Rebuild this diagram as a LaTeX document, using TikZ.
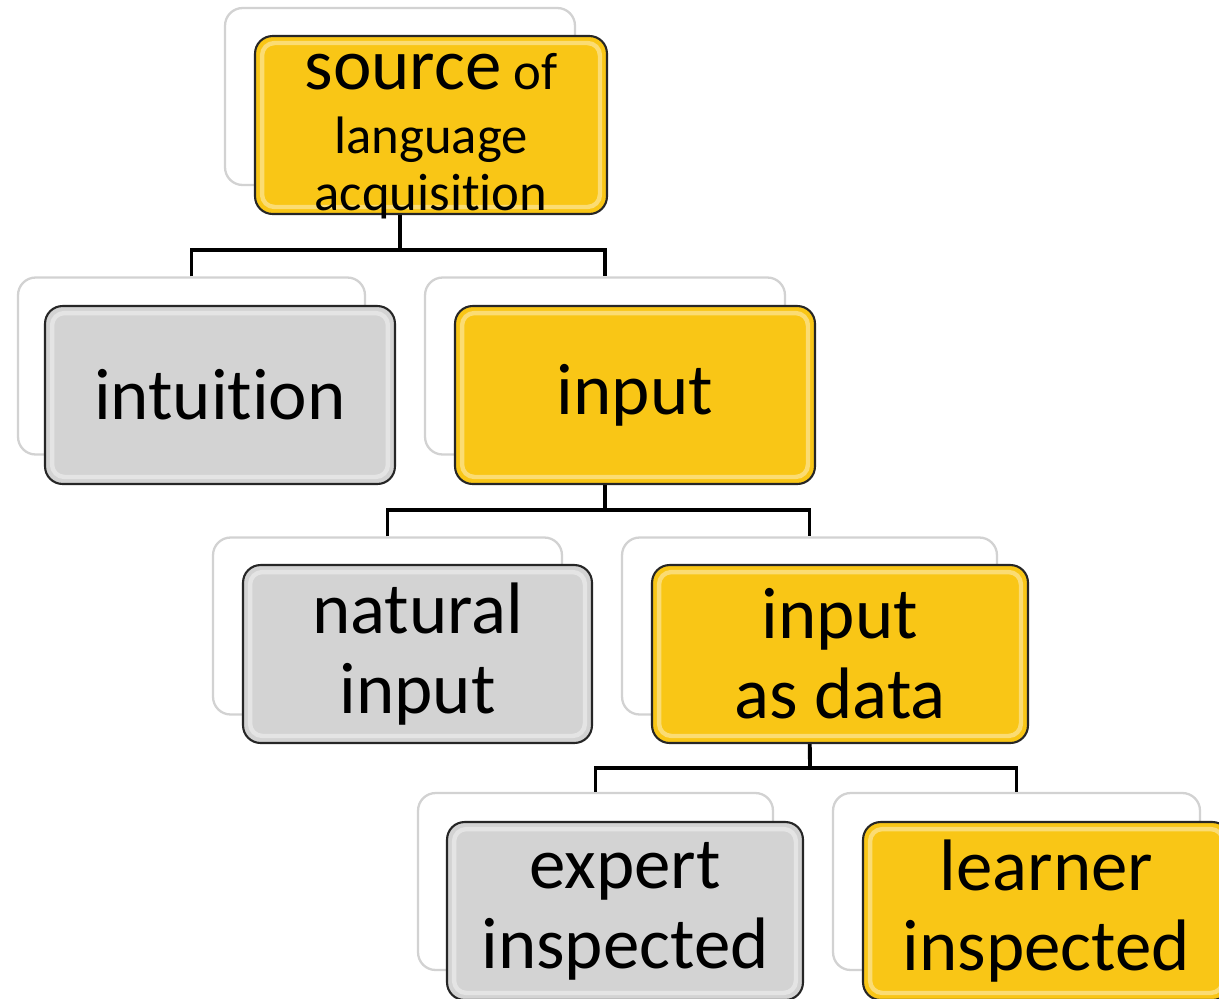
\documentclass[tikz,border=0pt]{standalone}
\usepackage{fontspec}
\setmainfont{Carlito}[Ligatures = NoCommon]
\definecolor{gold}{RGB}{249,198,22}
\definecolor{silver}{RGB}{211,211,211}
\definecolor{rim}{RGB}{210,210,210}

\begin{document}
\begin{tikzpicture}[x = .02cm, y = -.02cm,
  backbox/.style = {draw = rim, line width = 1.3pt, fill = white, rounded corners = 10pt,
                    minimum width = #1, minimum height = 3.54cm, inner sep = 0pt},
  frontbox/.style = {draw = black!85, line width = 1.2pt, rounded corners = 10pt,
                     align = center, inner sep = 0pt, minimum height = 3.56cm,
                     font = \fontsize{41.5pt}{45.5pt}\selectfont,
                     path picture = {\draw[white, opacity = .4, line width = 2.5pt, rounded corners = 7pt]
                       ([shift = {(4pt,-4pt)}]path picture bounding box.north west) rectangle
                       ([shift = {(-4pt,4pt)}]path picture bounding box.south east);}},
  goldbox/.style = {frontbox, fill = gold, minimum width = #1},
  greybox/.style = {frontbox, fill = silver, minimum width = #1},
  link/.style = {line width = 2.2pt, line join = miter}]
\useasboundingbox (0,0) rectangle (1219,998);

% white boxes behind
\node[backbox = 7cm]    (srcB) at (400,96.5) {};
\node[backbox = 6.94cm] (intB) at (191.5,366) {};
\node[backbox = 7.2cm]  (inpB) at (605,366) {};
\node[backbox = 6.98cm] (natB) at (387.5,626) {};
\node[backbox = 7.5cm]  (datB) at (809.5,626) {};
\node[backbox = 7.1cm]  (expB) at (595.5,881.5) {};
\node[backbox = 7.34cm] (lrnB) at (1016.5,881.5) {};

% tree lines
\coordinate (bar1) at (400,250);
\coordinate (bar2) at (605,510);
\coordinate (bar3) at (810,768);
\draw[link] (srcB.south) -- (bar1);
\draw[link] (intB.north) |- (bar1) -| (inpB.north);
\draw[link] (inpB.south) -- (bar2);
\draw[link] (natB.north) |- (bar2) -| (datB.north);
\draw[link] (datB.south) -- (bar3);
\draw[link] (expB.north) |- (bar3) -| (lrnB.north);

% coloured boxes in front
\node[goldbox = 7.04cm, font = \fontsize{30pt}{32.4pt}\selectfont] (src) at ([shift = {(31,28.5)}]srcB)
  {\raisebox{.71cm}[0pt][0pt]{\begin{tabular}[t]{@{}c@{}}
   {\fontsize{41.5pt}{45pt}\selectfont source} of\\[4pt] language\\ acquisition\end{tabular}}};
\node[greybox = 7cm]    (int) at ([shift = {(28.5,29)}]intB) {intuition};
\node[goldbox = 7.2cm]  (inp) at ([shift = {(30,29)}]inpB) {input};
\node[greybox = 6.98cm] (nat) at ([shift = {(30,28)}]natB) {natural\\ input};
\node[goldbox = 7.52cm] (dat) at ([shift = {(30.5,28)}]datB) {input\\ as data};
\node[greybox = 7.12cm] (exp) at ([shift = {(29.5,29.5)}]expB) {expert\\ inspected};
\node[goldbox = 7.34cm] (lrn) at ([shift = {(30,29.5)}]lrnB) {learner\\ inspected};
\end{tikzpicture}
\end{document}
